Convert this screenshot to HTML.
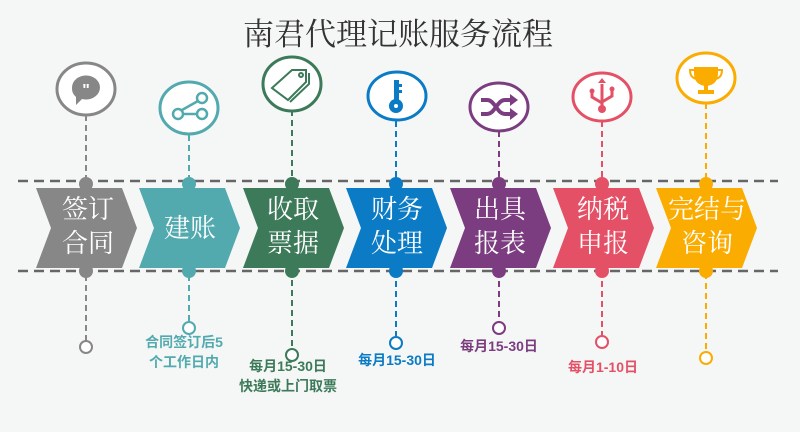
<!DOCTYPE html>
<html><head><meta charset="utf-8"><style>
html,body{margin:0;padding:0;background:#f5f6f6;}
svg{display:block}
.t{font-family:"Liberation Serif","Noto Serif CJK SC",serif;fill:#fff;font-size:26px;text-anchor:middle}
.b{font-family:"Liberation Sans","Noto Sans CJK SC",sans-serif;font-weight:bold;font-size:14px;text-anchor:middle}
</style></head><body>
<svg width="800" height="432" viewBox="0 0 800 432" xmlns="http://www.w3.org/2000/svg">
<rect width="800" height="432" fill="#f5f6f6"/>
<text x="398" y="45" text-anchor="middle" font-family="Liberation Serif,'Noto Serif CJK SC',serif" font-size="31" fill="#333">南君代理记账服务流程</text>
<line x1="18" y1="181" x2="778" y2="181" stroke="#666" stroke-width="2.5" stroke-dasharray="10,6"/>
<line x1="18" y1="271" x2="778" y2="271" stroke="#666" stroke-width="2.5" stroke-dasharray="10,6"/>
<g stroke-width="2" stroke-dasharray="6,4" fill="none">
<line x1="86" y1="115" x2="86" y2="341" stroke="#878787"/>
<line x1="189" y1="135" x2="189" y2="322" stroke="#52aaaf"/>
<line x1="292" y1="110" x2="292" y2="349" stroke="#3d7a5a"/>
<line x1="396" y1="121" x2="396" y2="337" stroke="#0a7bc4"/>
<line x1="499" y1="131" x2="499" y2="322" stroke="#7c3d80"/>
<line x1="602" y1="121" x2="602" y2="336" stroke="#e45166"/>
<line x1="706" y1="103" x2="706" y2="352" stroke="#fbac00"/>
</g>
<g>
<polygon points="36,188 122,188 137,228 122,268 36,268 51,228" fill="#878787"/>
<polygon points="139,188 225,188 240,228 225,268 139,268 154,228" fill="#52aaaf"/>
<polygon points="243,188 329,188 344,228 329,268 243,268 258,228" fill="#3d7a5a"/>
<polygon points="346,188 432,188 447,228 432,268 346,268 361,228" fill="#0a7bc4"/>
<polygon points="450,188 536,188 551,228 536,268 450,268 465,228" fill="#7c3d80"/>
<polygon points="553,188 639,188 654,228 639,268 553,268 568,228" fill="#e45166"/>
<polygon points="656,188 742,188 757,228 742,268 656,268 671,228" fill="#fbac00"/>
</g>
<g>
<circle cx="86" cy="184" r="7" fill="#878787"/><circle cx="86" cy="271" r="7" fill="#878787"/>
<circle cx="189" cy="184" r="7" fill="#52aaaf"/><circle cx="189" cy="271" r="7" fill="#52aaaf"/>
<circle cx="292" cy="184" r="7" fill="#3d7a5a"/><circle cx="292" cy="271" r="7" fill="#3d7a5a"/>
<circle cx="396" cy="184" r="7" fill="#0a7bc4"/><circle cx="396" cy="271" r="7" fill="#0a7bc4"/>
<circle cx="499" cy="184" r="7" fill="#7c3d80"/><circle cx="499" cy="271" r="7" fill="#7c3d80"/>
<circle cx="602" cy="184" r="7" fill="#e45166"/><circle cx="602" cy="271" r="7" fill="#e45166"/>
<circle cx="706" cy="184" r="7" fill="#fbac00"/><circle cx="706" cy="271" r="7" fill="#fbac00"/>
</g>
<text class="t" x="88" y="218">签订</text><text class="t" x="88" y="252">合同</text>
<text class="t" x="190" y="237">建账</text>
<text class="t" x="293" y="218">收取</text><text class="t" x="293" y="252">票据</text>
<text class="t" x="397" y="218">财务</text><text class="t" x="397" y="252">处理</text>
<text class="t" x="500" y="218">出具</text><text class="t" x="500" y="252">报表</text>
<text class="t" x="603" y="218">纳税</text><text class="t" x="603" y="252">申报</text>
<text class="t" x="707" y="218">完结与</text><text class="t" x="707" y="252">咨询</text>
<g stroke-width="3" fill="#fff">
<ellipse cx="86" cy="89" rx="29" ry="26" stroke="#878787"/>
<ellipse cx="189" cy="108" rx="29" ry="26" stroke="#52aaaf"/>
<ellipse cx="292" cy="84" rx="29" ry="27" stroke="#3d7a5a"/>
<ellipse cx="397" cy="96" rx="29" ry="24" stroke="#0a7bc4"/>
<ellipse cx="499" cy="107" rx="29" ry="24" stroke="#7c3d80"/>
<ellipse cx="602" cy="97" rx="29" ry="24" stroke="#e45166"/>
<ellipse cx="706" cy="78" rx="29" ry="25" stroke="#fbac00"/>
</g>
<path d="M72,88 a14,12 0 1,1 10,11 l-6,6 l0,-8 a14,12 0 0,1 -4,-9z" fill="#878787"/>
<text x="86" y="95" text-anchor="middle" font-family="Liberation Sans" font-weight="bold" font-size="16" fill="#fff">"</text>
<g stroke="#52aaaf" stroke-width="2.5" fill="none"><circle cx="202" cy="98" r="5"/><circle cx="178" cy="114" r="5"/><circle cx="202" cy="114" r="5"/><line x1="182" y1="110" x2="198" y2="101"/><line x1="183" y1="114" x2="197" y2="114"/></g>
<g stroke="#3d7a5a" stroke-width="2" fill="none"><polygon points="272,88 292,70 306,70 306,82 288,100"/><polyline points="290,102 309,84 309,73"/><circle cx="301" cy="75" r="2"/></g>
<g fill="#0a7bc4"><rect x="394" y="80" width="5" height="22"/><rect x="398" y="84" width="4" height="3"/><rect x="398" y="90" width="4" height="3"/><circle cx="396" cy="106" r="7"/></g>
<circle cx="396" cy="106" r="2" fill="#fff"/>
<g stroke="#7c3d80" stroke-width="4" fill="none"><path d="M481,100 h6 c8,0 10,14 18,14 h6"/><path d="M481,114 h6 c8,0 10,-14 18,-14 h6"/></g>
<g fill="#7c3d80"><polygon points="510,94 518,100 510,106"/><polygon points="510,108 518,114 510,120"/></g>
<g stroke="#e45166" stroke-width="3" fill="none"><line x1="602" y1="84" x2="602" y2="108"/><path d="M592,92 v5 l10,6"/><path d="M612,90 v6 l-10,6"/></g>
<g fill="#e45166"><circle cx="602" cy="109" r="4"/><circle cx="592" cy="91" r="2.5"/><circle cx="612" cy="89" r="2.5"/><polygon points="598,83 602,78 606,83"/></g>
<g fill="#fbac00"><path d="M694,67 h24 v6 q0,12 -12,13 q-12,-1 -12,-13z"/><rect x="704" y="85" width="4" height="5"/><rect x="698" y="90" width="16" height="4"/></g>
<g stroke="#fbac00" stroke-width="2" fill="none"><path d="M694,70 h-4 q0,8 7,9"/><path d="M718,70 h4 q0,8 -7,9"/></g>
<g fill="#fff" stroke-width="2">
<circle cx="86" cy="347" r="6" stroke="#878787"/>
<circle cx="189" cy="328" r="6" stroke="#52aaaf"/>
<circle cx="292" cy="355" r="6" stroke="#3d7a5a"/>
<circle cx="396" cy="343" r="6" stroke="#0a7bc4"/>
<circle cx="499" cy="328" r="6" stroke="#7c3d80"/>
<circle cx="602" cy="342" r="6" stroke="#e45166"/>
<circle cx="706" cy="358" r="6" stroke="#fbac00"/>
</g>
<text class="b" x="184" y="347" fill="#52aaaf">合同签订后5</text>
<text class="b" x="184" y="367" fill="#52aaaf">个工作日内</text>
<text class="b" x="288" y="371" fill="#3d7a5a">每月15-30日</text>
<text class="b" x="288" y="391" fill="#3d7a5a">快递或上门取票</text>
<text class="b" x="397" y="365" fill="#0a7bc4">每月15-30日</text>
<text class="b" x="499" y="351" fill="#7c3d80">每月15-30日</text>
<text class="b" x="603" y="372" fill="#e45166">每月1-10日</text>
</svg>
</body></html>
